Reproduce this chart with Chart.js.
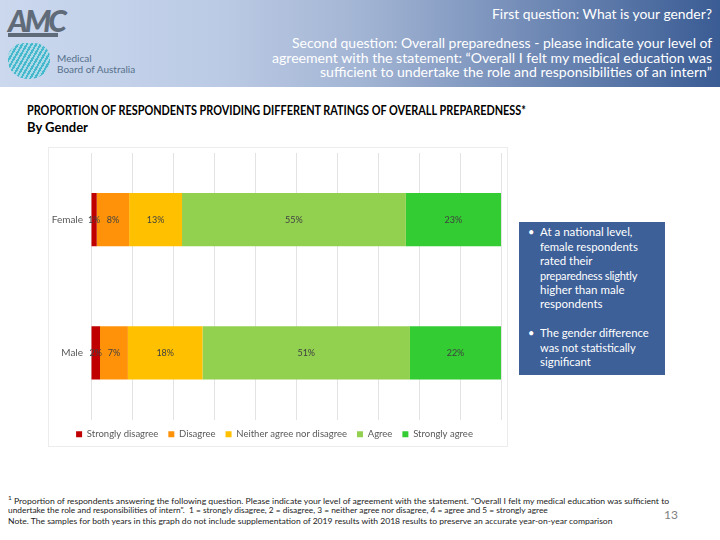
<!DOCTYPE html>
<html>
<head>
<meta charset="utf-8">
<script src="https://cdn.jsdelivr.net/npm/chart.js@4/dist/chart.umd.min.js"></script>
<style>
  body { margin: 0; width: 720px; height: 540px; position: relative; background: #fff; font-family: Lato, "Open Sans", sans-serif; overflow: hidden; }
  .abs { position: absolute; white-space: nowrap; }
  #header { position: absolute; left: 0; top: 0; width: 720px; height: 87px;
    background: linear-gradient(to right, #cbd8ee 0%, #bccbe5 30%, #a3b5d4 50%, #6f89b5 75%, #3a5c94 100%); }
  .hq { color: #fff; font-size: 13px; right: 8px; transform-origin: right center; }
  .title { left: 27px; font-size: 13px; font-weight: bold; color: #000; transform-origin: left center; }
  #chartBox { position: absolute; left: 48px; top: 147px; width: 460px; height: 300px; border: 1px solid #ececec; box-sizing: border-box; }
  #chart { position: absolute; left: 48px; top: 147px; }
  #note { position: absolute; left: 519px; top: 222px; width: 146px; height: 153px; background: #3d6098; }
  .nt { color: #fff; font-size: 11px; transform-origin: left center; }
  .foot { left: 8px; font-size: 8px; color: #222; transform-origin: left center; }
</style>
</head>
<body>
<div id="header"></div>
<!-- logos, roughly -->
<div class="abs" style="left:8px;top:2px;font-size:30px;font-weight:900;font-style:italic;color:#5f6b78;letter-spacing:-3px;">AMC</div>
<div class="abs" style="left:8px;top:33px;width:50px;height:4px;background:#5f6b78;"></div>
<div class="abs" style="left:8px;top:43px;width:42px;height:36px;border-radius:40% 40% 50% 50%;background:repeating-linear-gradient(120deg,#2fb3c8 0 2px,#a9d9e6 2px 4px);opacity:0.85;"></div>
<div class="abs" style="left:57px;top:52px;font-size:10px;color:#55708a;">Medical</div>
<div class="abs" style="left:57px;top:63px;font-size:10px;color:#55708a;">Board of Australia</div>

<div class="abs hq fit" data-w="220" style="top:6px;">First question: What is your gender?</div>
<div class="abs hq fit" data-w="420" style="top:35px;">Second question: Overall preparedness - please indicate your level of</div>
<div class="abs hq fit" data-w="440" style="top:50px;">agreement with the statement: “Overall I felt my medical education was</div>
<div class="abs hq fit" data-w="392" style="top:64px;">sufficient to undertake the role and responsibilities of an intern”</div>

<div class="abs title fit" data-w="499" style="top:102px;">PROPORTION OF RESPONDENTS PROVIDING DIFFERENT RATINGS OF OVERALL PREPAREDNESS*</div>
<div class="abs title fit" data-w="61" style="top:119px;">By Gender</div>

<div id="chartBox"></div>
<canvas id="chart" width="460" height="302"></canvas>

<div id="note"></div>
<div class="abs nt" style="left:528px;top:225px;">•</div>
<div class="abs nt fit" data-w="92" style="left:540px;top:225px;">At a national level,</div>
<div class="abs nt fit" data-w="98" style="left:540px;top:240px;">female respondents</div>
<div class="abs nt fit" data-w="53" style="left:540px;top:254px;">rated their</div>
<div class="abs nt" style="left:540px;top:269px;letter-spacing:-0.2px;">preparedness slightly</div>
<div class="abs nt fit" data-w="84" style="left:540px;top:283px;">higher than male</div>
<div class="abs nt fit" data-w="63" style="left:540px;top:297px;">respondents</div>
<div class="abs nt" style="left:528px;top:326px;">•</div>
<div class="abs nt fit" data-w="109" style="left:540px;top:326px;">The gender difference</div>
<div class="abs nt fit" data-w="96" style="left:540px;top:341px;">was not statistically</div>
<div class="abs nt fit" data-w="51" style="left:540px;top:355px;">significant</div>

<div class="abs foot fit" data-w="661" style="top:494px;"><sup style="font-size:6px">1</sup> Proportion of respondents answering the following question. Please indicate your level of agreement with the statement. "Overall I felt my medical education was sufficient to</div>
<div class="abs foot fit" data-w="540" style="top:505px;">undertake the role and responsibilities of intern".&nbsp; 1 = strongly disagree, 2 = disagree, 3 = neither agree nor disagree, 4 = agree and 5 = strongly agree</div>
<div class="abs foot fit" data-w="604" style="top:516px;">Note. The samples for both years in this graph do not include supplementation of 2019 results with 2018 results to preserve an accurate year-on-year comparison</div>
<div class="abs" style="left:664px;top:507px;font-size:12px;color:#7f7f7f;">13</div>

<script>
// values per gender, in percent
const categories = ['Female', 'Male'];
const ratingLabels = ['Strongly disagree', 'Disagree', 'Neither agree nor disagree', 'Agree', 'Strongly agree'];
const stronglyDisagree = [1.4, 2.2];
const disagree = [7.9, 6.8];
const neither = [12.9, 18.2];
const agree = [54.6, 50.6];
const stronglyAgree = [23.2, 22.2];
const ratingColors = ['#c00000', '#ff9209', '#ffc000', '#92d050', '#33cc33'];

// squeeze texts to the width they have in the slide
document.querySelectorAll('.fit').forEach(el => {
  const w = parseFloat(el.dataset.w);
  el.style.transform = 'scaleX(' + (w / el.scrollWidth) + ')';
});

const seriesValues = [stronglyDisagree, disagree, neither, agree, stronglyAgree];

const barLabels = {
  id: 'barLabels',
  afterDatasetsDraw(chart) {
    const ctx = chart.ctx;
    ctx.save();
    ctx.font = '9px Lato';
    ctx.fillStyle = '#404040';
    ctx.textAlign = 'center';
    ctx.textBaseline = 'middle';
    chart.data.datasets.forEach((ds, i) => {
      chart.getDatasetMeta(i).data.forEach((bar, j) => {
        ctx.fillText(Math.round(ds.data[j]) + '%', (bar.x + bar.base) / 2, bar.y);
      });
    });
    ctx.restore();
  }
};

new Chart(document.getElementById('chart'), {
  type: 'bar',
  data: {
    labels: categories,
    datasets: ratingLabels.map((name, i) => ({
      label: name,
      data: seriesValues[i],
      backgroundColor: ratingColors[i],
      borderWidth: 0,
      barPercentage: 0.4,
      categoryPercentage: 1
    }))
  },
  options: {
    indexAxis: 'y',
    responsive: false,
    animation: false,
    layout: { padding: { top: 5, right: 7, bottom: 0, left: 0 } },
    scales: {
      x: {
        stacked: true, min: 0, max: 100,
        ticks: { display: false, stepSize: 10 },
        grid: { color: '#e3e3e3', drawTicks: false },
        border: { display: false },
        afterFit(scale) { scale.height = 0; }
      },
      y: {
        stacked: true,
        grid: { display: false, tickLength: 8 },
        border: { display: false },
        ticks: { color: '#595959', font: { size: 10, family: 'Lato' }, padding: 0 },
        afterFit(scale) { scale.width = 43; }
      }
    },
    plugins: {
      legend: {
        position: 'bottom',
        labels: { boxWidth: 6, boxHeight: 6, padding: 10, color: '#595959', font: { size: 9.5, family: 'Lato' } }
      },
      tooltip: { enabled: false }
    }
  },
  plugins: [barLabels]
});
</script>
</body>
</html>
